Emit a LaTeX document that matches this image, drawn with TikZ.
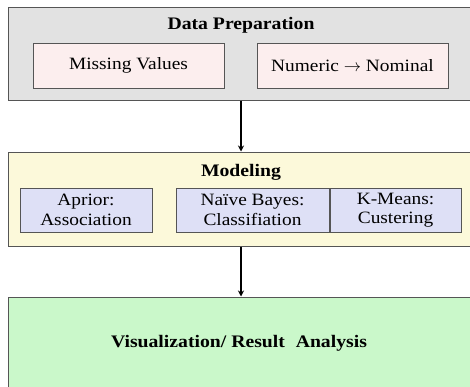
\documentclass[tikz,border=0pt]{standalone}
\usepackage{fontspec}
\setmainfont[FakeStretch=1.12]{Liberation Serif}
\usetikzlibrary{arrows.meta}
\definecolor{panelgray}{RGB}{226,226,226}
\definecolor{panelyellow}{RGB}{252,249,218}
\definecolor{panelgreen}{RGB}{202,248,202}
\definecolor{boxpink}{RGB}{252,238,238}
\definecolor{boxblue}{RGB}{222,224,246}
\definecolor{edge}{RGB}{85,85,85}
\tikzset{
  panel/.style={draw=edge, line width=1pt, rectangle, inner sep=0pt},
  item/.style={draw=edge, line width=1pt, rectangle, inner sep=0pt, align=center,
    font=\fontsize{17.3}{19.5}\selectfont},
  title/.style={font=\fontsize{17.6}{19}\selectfont\bfseries, inner sep=0pt},
  flow/.style={line width=1.4pt, -{Stealth[length=6pt,width=6pt]}}
}
\begin{document}
\begin{tikzpicture}[x=1pt,y=-1pt]
\clip (0,0) rectangle (470,386);
\fill[white] (0,0) rectangle (470,386);
% panels
\node[panel, fill=panelgray, minimum width=466pt, minimum height=93pt] (prep) at (241,53.5) {};
\node[panel, fill=panelyellow, minimum width=466pt, minimum height=94pt] (model) at (241,199) {};
\node[panel, fill=panelgreen, minimum width=466pt, minimum height=100pt] (vis) at (241,347) {};
% titles
\node[title] (preptitle) at (241,25) {Data Preparation};
\node[title] (modeltitle) at (241,172) {Modeling};
\node[title] (vistitle) at (239,343) {Visualization/ Result\,\, Analysis};
% items
\node[item, fill=boxpink, minimum width=191pt, minimum height=45pt] (mv) at (128.5,65.5) {Missing Values};
\node[item, fill=boxpink, minimum width=191pt, minimum height=45pt] (nn) at (352.5,65.5) {Numeric $\rightarrow$ Nominal};
\node[item, fill=boxblue, minimum width=132pt, minimum height=44pt] (ap) at (86,210) {Aprior:\\Association};
\node[item, fill=boxblue, minimum width=153pt, minimum height=44pt] (nb) at (252.5,210) {Naïve Bayes:\\Classifiation};
\node[item, fill=boxblue, minimum width=131pt, minimum height=44pt] (km) at (395.5,210) {K-Means:\\Custering};
% arrows
\draw[flow] (prep.south) -- (model.north);
\draw[flow] (model.south) -- (vis.north);
\end{tikzpicture}
\end{document}
